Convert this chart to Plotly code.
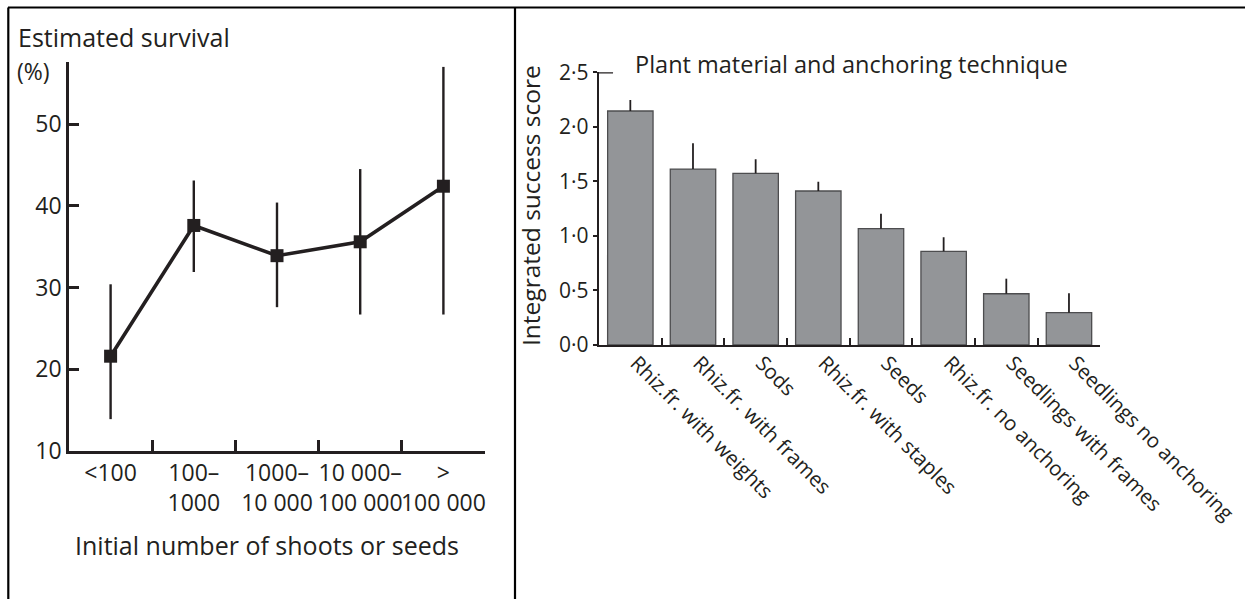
import plotly.graph_objects as go

# ---- Left panel data ----
size_classes = ["<100", "100–<br>1000", "1000–<br>10 000", "10 000–<br>100 000", "><br>100 000"]
survival = [21.6, 37.6, 33.9, 35.6, 42.4]
survival_upper = [30.4, 43.1, 40.4, 44.5, 57.0]
survival_lower = [13.9, 31.9, 27.6, 26.7, 26.7]
left_yticks = [10, 20, 30, 40, 50]

# ---- Right panel data ----
techniques = ["Rhiz.fr. with weights", "Rhiz.fr. with frames", "Sods", "Rhiz.fr. with staples",
              "Seeds", "Rhiz.fr. no anchoring", "Seedlings with frames", "Seedlings no anchoring"]
score = [2.145, 1.613, 1.574, 1.412, 1.066, 0.859, 0.470, 0.296]
score_upper = [2.245, 1.849, 1.702, 1.497, 1.204, 0.987, 0.608, 0.474]
right_yticks = [0, 0.5, 1.0, 1.5, 2.0, 2.5]
right_yticklabels = ["0·0", "0·5", "1·0", "1·5", "2·0", "2·5"]

W, H = 1245, 599
def px(x):
    return x / W
def py(y):
    return 1 - y / H

INK = "#231f20"
FONT = "Open Sans"

fig = go.Figure()

fig.add_trace(go.Scatter(
    x=size_classes, y=survival, mode="lines+markers",
    line=dict(color=INK, width=3.6),
    marker=dict(symbol="square", size=13, color=INK),
    error_y=dict(type="data", symmetric=False,
                 array=[u - v for u, v in zip(survival_upper, survival)],
                 arrayminus=[v - l for v, l in zip(survival, survival_lower)],
                 width=0, thickness=2.4, color=INK),
    xaxis="x", yaxis="y", showlegend=False, hoverinfo="x+y"))

fig.add_trace(go.Bar(
    x=techniques, y=score,
    marker=dict(color="#939598", line=dict(color="#4d4d4f", width=1.3)),
    width=0.725,
    error_y=dict(type="data", symmetric=False,
                 array=[u - v for u, v in zip(score_upper, score)],
                 arrayminus=[0] * len(score),
                 width=0, thickness=1.8, color=INK),
    xaxis="x2", yaxis="y2", showlegend=False))

fig.update_layout(
    width=W, height=H, autosize=False,
    margin=dict(l=0, r=0, t=0, b=0, pad=0, autoexpand=False),
    paper_bgcolor="white", plot_bgcolor="white",
    font=dict(family=FONT, color=INK, size=20),
    xaxis=dict(domain=[px(69), px(485)], type="category", range=[-0.5, 4.5],
               tickson="boundaries", ticks="inside", ticklen=11, tickwidth=2.5, tickcolor=INK,
               showline=True, linewidth=2.7, linecolor=INK, showgrid=False, zeroline=False,
               tickangle=0, automargin=False,
               tickfont=dict(size=23, family=FONT, color=INK), anchor="y"),
    yaxis=dict(domain=[py(451), py(62)], range=[10, 57.6], tickvals=left_yticks,
               ticks="inside", ticklen=10, tickwidth=2.5, tickcolor=INK, automargin=False,
               showline=True, linewidth=2.7, linecolor=INK, showgrid=False, zeroline=False,
               tickfont=dict(size=23, family=FONT, color=INK), anchor="x"),
    xaxis2=dict(domain=[px(599), px(1100.3)], type="category", range=[-0.5, 7.5],
                tickson="boundaries", ticks="inside", ticklen=7, tickwidth=2, tickcolor=INK,
                showline=True, linewidth=2.4, linecolor=INK, showgrid=False, zeroline=False,
                tickangle=45, automargin=False, ticklabelshift=6, ticklabelstandoff=-4,
                tickfont=dict(size=20.5, family=FONT, color=INK), anchor="y2"),
    yaxis2=dict(domain=[py(345), py(72.3)], range=[0, 2.5], tickvals=right_yticks,
                ticktext=right_yticklabels, automargin=False,
                ticks="outside", ticklen=4, tickwidth=2, tickcolor=INK,
                showline=True, linewidth=2.4, linecolor=INK, showgrid=False, zeroline=False,
                tickfont=dict(size=21, family=FONT, color=INK), anchor="x2"),
    bargap=0.275,
)

ann = [
    dict(text="Estimated survival", x=px(16), y=py(37), xanchor="left", yanchor="middle",
         font=dict(size=25)),
    dict(text="(%)", x=px(15), y=py(71), xanchor="left", yanchor="middle", font=dict(size=23)),
    dict(text="Initial number of shoots or seeds", x=px(267), y=py(545), xanchor="center",
         yanchor="middle", font=dict(size=25)),
    dict(text="Plant material and anchoring technique", x=px(633), y=py(64), xanchor="left",
         yanchor="middle", font=dict(size=23.5)),
    dict(text="Integrated success score", x=px(531), y=py(206), xanchor="center",
         yanchor="middle", textangle=-90, font=dict(size=24.5)),
]
for a in ann:
    a.update(xref="paper", yref="paper", showarrow=False)
fig.update_layout(annotations=ann)

shapes = [
    # panel frame
    dict(type="line", x0=px(8), x1=1, y0=py(7.5), y1=py(7.5)),
    dict(type="line", x0=px(8.3), x1=px(8.3), y0=0, y1=py(7.5)),
    dict(type="line", x0=px(515), x1=px(515), y0=0, y1=py(7.5)),
]
for s in shapes:
    s.update(xref="paper", yref="paper", line=dict(color="black", width=2.2))
# short bracket at top of right y axis
shapes.append(dict(type="line", xref="x2 domain", yref="y2", x0=0, x1=0.028, y0=2.5, y1=2.5,
                   line=dict(color=INK, width=2.4)))
fig.update_layout(shapes=shapes)

fig.write_html("out.html", config={"responsive": False, "displayModeBar": False},
               post_script="document.body.style.margin='0';")
